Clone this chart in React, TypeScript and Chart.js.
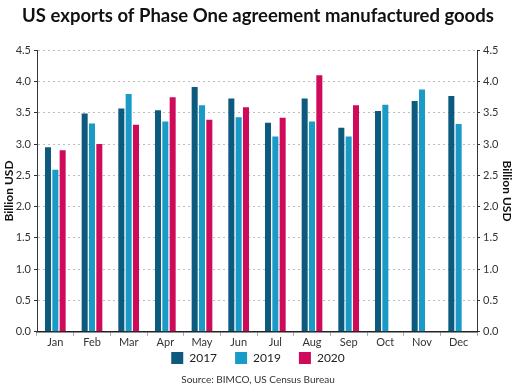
import React, { useEffect, useRef } from "react";
import { Chart, registerables } from "chart.js";

Chart.register(...registerables);

const months = ["Jan", "Feb", "Mar", "Apr", "May", "Jun", "Jul", "Aug", "Sep", "Oct", "Nov", "Dec"];
const exports2017 = [2.95, 3.49, 3.57, 3.54, 3.91, 3.73, 3.34, 3.73, 3.26, 3.53, 3.69, 3.77];
const exports2019 = [2.59, 3.33, 3.80, 3.36, 3.62, 3.43, 3.12, 3.36, 3.12, 3.63, 3.87, 3.32];
const exports2020 = [2.90, 3.00, 3.31, 3.75, 3.39, 3.59, 3.42, 4.10, 3.62, null, null, null];

const FONT = "Lato, 'Open Sans', sans-serif";

export default function App() {
  const ref = useRef<HTMLCanvasElement>(null);
  useEffect(() => {
    if (!ref.current) return;
    const yTicks = {
      color: "#333",
      font: { family: FONT, size: 11 },
      stepSize: 0.5,
      padding: 3,
      callback: (v: any) => Number(v).toFixed(1),
    };
    const chart = new Chart(ref.current, {
      type: "bar",
      data: {
        labels: months,
        datasets: [
          { label: "2017", data: exports2017, backgroundColor: "#0c5a7e", yAxisID: "y" },
          { label: "2019", data: exports2019, backgroundColor: "#1a9ac6", yAxisID: "y" },
          { label: "2020", data: exports2020 as any, backgroundColor: "#d00a5a", yAxisID: "y" },
        ],
      },
      options: {
        animation: false,
        responsive: false,
        maintainAspectRatio: false,
        layout: { padding: { left: 0, right: 0, top: 0, bottom: 3 } },
        datasets: { bar: { categoryPercentage: 0.6, barPercentage: 0.82 } },
        scales: {
          x: {
            offset: true,
            grid: { display: true, drawOnChartArea: false, drawTicks: true, tickLength: 4, color: "#aaa", tickColor: "#aaa", offset: true },
            border: { display: true, color: "#222", width: 1.5 },
            ticks: { color: "#333", font: { family: FONT, size: 11 }, padding: 0, maxRotation: 0 },
          },
          y: {
            position: "left",
            min: 0,
            max: 4.5,
            grid: { color: "#bdbdbd", lineWidth: 1, drawTicks: true, tickLength: 3, tickColor: "#333", tickBorderDash: [] as any },
            border: { display: true, color: "#333", width: 1, dash: [2, 3] },
            ticks: yTicks as any,
            title: { display: true, text: "Billion USD", color: "#111", font: { family: FONT, size: 12, weight: "bold" }, padding: 2 },
            afterFit: (s: any) => { s.width = 37; },
          },
          y2: {
            position: "right",
            min: 0,
            max: 4.5,
            grid: { drawOnChartArea: false, drawTicks: true, tickLength: 3, tickColor: "#333" },
            border: { display: true, color: "#333", width: 1 },
            ticks: yTicks as any,
            title: { display: true, text: "Billion USD", color: "#111", font: { family: FONT, size: 12, weight: "bold" }, padding: 2 },
            afterFit: (s: any) => { s.width = 39; },
          },
        },
        plugins: {
          title: {
            display: true,
            text: "US exports of Phase One agreement manufactured goods",
            color: "#111",
            font: { family: FONT, size: 18.5, weight: "bold" },
            padding: { top: 5, bottom: 23 },
          },
          legend: {
            position: "bottom",
            labels: {
              color: "#222",
              font: { family: FONT, size: 12 },
              boxWidth: 12,
              boxHeight: 12,
              padding: 3,
              generateLabels: (c: any) => {
                const items = Chart.defaults.plugins.legend.labels.generateLabels(c);
                return items.map((it: any, i: number) =>
                  i < items.length - 1 ? { ...it, text: it.text + "\u2003\u2002" } : it
                );
              },
            },
          },
          subtitle: {
            display: true,
            position: "bottom",
            text: "Source: BIMCO, US Census Bureau",
            color: "#333",
            font: { family: FONT, size: 10 },
            padding: { top: 0, bottom: 2 },
          },
          tooltip: { enabled: false },
        },
      },
    });
    return () => chart.destroy();
  }, []);
  return (
    <div style={{ position: "absolute", left: 0, top: 0, width: 516, height: 391, background: "#fff" }}>
      <canvas ref={ref} width={516} height={391} style={{ width: 516, height: 391 }} />
    </div>
  );
}
